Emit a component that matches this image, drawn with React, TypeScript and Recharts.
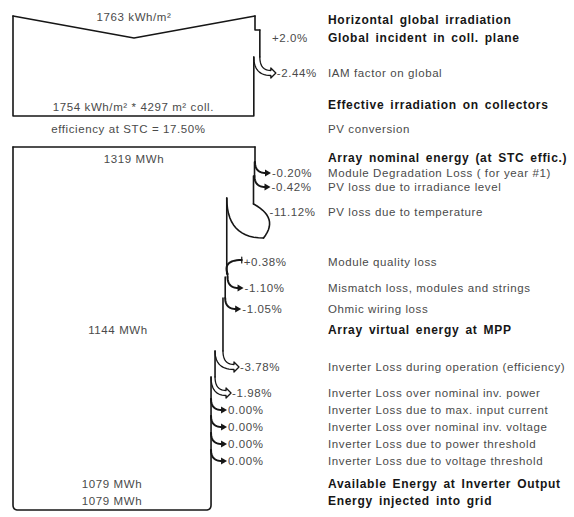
import React from 'react';
import { ComposedChart, Scatter, XAxis, YAxis } from 'recharts';

const W = 574;
const H = 517;
const INK = '#161616';
const GREY = '#4a4a4a';
const FONT = "'Liberation Sans', Arial, Helvetica, sans-serif";

// Irradiation part (kWh/m²)
const GHI = 1763;
const EFF_IRR = 1754;
const COLL_AREA = 4297;
const STC_EFF = 17.5;
const IRR_LABELS = ['Global incident in coll. plane', 'IAM factor on global'];
const IRR_PCT = [2.0, -2.44];
const IRR_DECIMALS = [1, 2];

// Energy part (MWh)
const E_NOMINAL = 1319;
const E_MPP = 1144;
const E_INV_OUT = 1079;
const E_GRID = 1079;
const ARRAY_LABELS = [
  'Module Degradation Loss ( for year #1)',
  'PV loss due to irradiance level',
  'PV loss due to temperature',
  'Module quality loss',
  'Mismatch loss, modules and strings',
  'Ohmic wiring loss',
];
const ARRAY_PCT = [-0.2, -0.42, -11.12, 0.38, -1.1, -1.05];
const INV_LABELS = [
  'Inverter Loss during operation (efficiency)',
  'Inverter Loss over nominal inv. power',
  'Inverter Loss due to max. input current',
  'Inverter Loss over nominal inv. voltage',
  'Inverter Loss due to power threshold',
  'Inverter Loss due to voltage threshold',
];
const INV_PCT = [-3.78, -1.98, 0, 0, 0, 0];

// vertical layout of the rows (px from top)
const ROWS = {
  ghi: 20,
  irr: [38, 73],
  eff: 105,
  conv: 129,
  box1Top: 16,
  box1Dip: 38,
  box1Bottom: 116,
  box2Top: 147,
  box2Bottom: 510,
  nominal: 158,
  array: [173, 187, 212, 262, 288, 309],
  mpp: 330,
  inv: [367, 393, 410, 427, 444, 461],
  out: 484,
  grid: 501,
};

// one unit on the x axis = full width of a box at its starting value
const PX = 242;
const LEFT = 13;
const u = (px: number) => px / PX;
const DESC_X = u(328 - LEFT);
const LW = 1.6;

type P = { x: number; y: number };
type Txt = P & { text: string; bold?: boolean; anchor?: 'start' | 'middle' | 'end' };

const q = (a: P, c: P, b: P, n = 14): P[] =>
  Array.from({ length: n + 1 }, (_, i) => {
    const t = i / n;
    const s = 1 - t;
    return { x: s * s * a.x + 2 * s * t * c.x + t * t * b.x, y: s * s * a.y + 2 * s * t * c.y + t * t * b.y };
  });

const fmtPct = (v: number, d = 2) => (v > 0 ? '+' : '') + v.toFixed(d) + '%';

const lines: { pts: P[]; w: number }[] = [];
const heads: P[] = [];
const texts: Txt[] = [];

// walks a list of gains/losses down the right edge of a box
function runSteps(x: number, yTop: number, pcts: number[], rows: number[], decimals: number[] = []) {
  pcts.forEach((pct, i) => {
    const yL = rows[i];
    const xn = x * (1 + pct / 100);
    const bw = (x - xn) * PX;
    let labelX = x + u(17);
    if (pct > 0) {
      const yJ = yL + 12;
      lines.push({ pts: [{ x, y: yTop }, { x, y: yJ }], w: LW });
      lines.push({ pts: q({ x: x + u(15), y: yL - 2 }, { x: xn - u(5), y: yL - 2 }, { x: xn, y: yJ }), w: 2 });
      lines.push({ pts: [{ x: x + u(15), y: yL - 5 }, { x: x + u(15), y: yL + 1 }], w: 1.2 });
      yTop = yJ;
    } else if (bw < 3) {
      const yS = yL - 11;
      lines.push({ pts: [{ x, y: yTop }, { x, y: yS }], w: LW });
      lines.push({ pts: q({ x, y: yS }, { x, y: yL }, { x: x + u(11), y: yL }), w: 2 });
      heads.push({ x: x + u(16), y: yL });
      yTop = yS;
    } else if (bw < 14) {
      const yS = yL - 16;
      const hw = 2.5;
      const xb = x + u(11);
      lines.push({ pts: [{ x, y: yTop }, { x, y: yS }], w: LW });
      lines.push({
        pts: [
          ...q({ x, y: yS }, { x, y: yL - hw }, { x: xb, y: yL - hw }),
          { x: xb, y: yL - hw - 2.5 },
          { x: x + u(16), y: yL },
          { x: xb, y: yL + hw + 2.5 },
          ...q({ x: xb, y: yL + hw }, { x: xn, y: yL + hw }, { x: xn, y: yS }),
        ],
        w: 1.3,
      });
      yTop = yS;
    } else {
      const tip = { x: x + u(10), y: yL + 26 };
      lines.push({ pts: [{ x, y: yTop }, { x, y: yL - 8 }], w: LW });
      lines.push({ pts: q({ x, y: yL - 8 }, { x: x + u(26), y: yL + 6 }, tip), w: LW });
      lines.push({ pts: q({ x: xn, y: yL - 14 }, { x: xn, y: yL + 26 }, tip), w: LW });
      labelX = x + u(16);
      yTop = yL - 14;
    }
    texts.push({ x: labelX, y: yL, text: fmtPct(pct, decimals[i] ?? 2) });
    x = xn;
  });
  return { x, yTop };
}

// ---- irradiation box ----
const g0 = GHI / GHI;
lines.push({ pts: [{ x: 0, y: ROWS.box1Top }, { x: g0 / 2, y: ROWS.box1Dip }, { x: g0, y: ROWS.box1Top }], w: LW });
const gPoa = g0 * (1 + IRR_PCT[0] / 100);
const yGain = ROWS.irr[0] - 8;
lines.push({ pts: [{ x: g0, y: ROWS.box1Top }, { x: g0, y: yGain }, { x: gPoa, y: yGain }], w: LW });
texts.push({ x: g0 + u(17), y: ROWS.irr[0], text: fmtPct(IRR_PCT[0], IRR_DECIMALS[0]) });
const irr = runSteps(gPoa, yGain, IRR_PCT.slice(1), ROWS.irr.slice(1), IRR_DECIMALS.slice(1));
lines.push({
  pts: [
    { x: irr.x, y: irr.yTop },
    { x: irr.x, y: ROWS.box1Bottom },
    { x: 0, y: ROWS.box1Bottom },
    { x: 0, y: ROWS.box1Top },
  ],
  w: LW,
});
texts.push({ x: g0 / 2, y: ROWS.box1Top + 1, text: `${GHI} kWh/m²`, anchor: 'middle' });
texts.push({ x: irr.x / 2, y: ROWS.eff + 2, text: `${EFF_IRR} kWh/m² * ${COLL_AREA} m² coll.`, anchor: 'middle' });
texts.push({ x: irr.x / 2 - u(5), y: ROWS.conv, text: `efficiency at STC = ${STC_EFF.toFixed(2)}%`, anchor: 'middle' });

// ---- energy box ----
const e0 = E_NOMINAL / E_NOMINAL;
lines.push({ pts: [{ x: 0, y: ROWS.box2Top }, { x: e0, y: ROWS.box2Top }], w: LW });
const arr = runSteps(e0, ROWS.box2Top, ARRAY_PCT, ROWS.array);
const inv = runSteps(arr.x, arr.yTop, INV_PCT, ROWS.inv);
const bot = ROWS.box2Bottom;
lines.push({
  pts: [
    { x: inv.x, y: inv.yTop },
    ...q({ x: inv.x, y: bot - 5 }, { x: inv.x, y: bot }, { x: inv.x - u(5), y: bot }, 6),
    ...q({ x: u(5), y: bot }, { x: 0, y: bot }, { x: 0, y: bot - 5 }, 6),
    { x: 0, y: ROWS.box2Top },
  ],
  w: LW,
});
texts.push({ x: e0 / 2, y: ROWS.nominal + 1, text: `${E_NOMINAL} MWh`, anchor: 'middle' });
texts.push({ x: arr.x / 2, y: ROWS.mpp, text: `${E_MPP} MWh`, anchor: 'middle' });
texts.push({ x: inv.x / 2, y: ROWS.out, text: `${E_INV_OUT} MWh`, anchor: 'middle' });
texts.push({ x: inv.x / 2, y: ROWS.grid, text: `${E_GRID} MWh`, anchor: 'middle' });

// ---- description column ----
const desc: [string, number, boolean][] = [
  ['Horizontal global irradiation', ROWS.ghi, true],
  [IRR_LABELS[0], ROWS.irr[0], true],
  [IRR_LABELS[1], ROWS.irr[1], false],
  ['Effective irradiation on collectors', ROWS.eff, true],
  ['PV conversion', ROWS.conv, false],
  ['Array nominal energy (at STC effic.)', ROWS.nominal, true],
  ...ARRAY_LABELS.map((t, i) => [t, ROWS.array[i], false] as [string, number, boolean]),
  ['Array virtual energy at MPP', ROWS.mpp, true],
  ...INV_LABELS.map((t, i) => [t, ROWS.inv[i], false] as [string, number, boolean]),
  ['Available Energy at Inverter Output', ROWS.out, true],
  ['Energy injected into grid', ROWS.grid, true],
];
desc.forEach(([text, y, bold]) => texts.push({ x: DESC_X, y, text, bold }));

const Nothing = () => <g />;

const Head = (p: any) => (
  <polygon points={`${p.cx - 6},${p.cy - 3.5} ${p.cx},${p.cy} ${p.cx - 6},${p.cy + 3.5}`} fill={INK} />
);

const TextMark = (p: any) => {
  const d: Txt = p.payload;
  return (
    <text
      x={p.cx}
      y={p.cy}
      textAnchor={d.anchor ?? 'start'}
      dominantBaseline="central"
      fontFamily={FONT}
      fontSize={d.bold ? 12 : 11.5}
      fontWeight={d.bold ? 700 : 400}
      fill={d.bold ? INK : GREY}
      letterSpacing={d.bold ? 0.7 : 0.6}
      wordSpacing={d.bold ? 2 : 0}
    >
      {d.text}
    </text>
  );
};

export default function App() {
  return (
    <div style={{ position: 'absolute', left: 0, top: 0, width: W, height: H, background: '#fff' }}>
      <ComposedChart width={W} height={H} margin={{ top: 0, right: 0, bottom: 0, left: 0 }}>
        <XAxis type="number" dataKey="x" domain={[-LEFT / PX, (W - LEFT) / PX]} allowDataOverflow hide />
        <YAxis type="number" dataKey="y" domain={[0, H]} reversed allowDataOverflow hide />
        {lines.map((l, i) => (
          <Scatter
            key={`l${i}`}
            data={l.pts}
            line={{ stroke: INK, strokeWidth: l.w, strokeLinejoin: 'round', strokeLinecap: 'round' }}
            lineType="joint"
            shape={Nothing}
            isAnimationActive={false}
          />
        ))}
        <Scatter data={heads} shape={Head} isAnimationActive={false} />
        <Scatter data={texts} shape={TextMark} isAnimationActive={false} />
      </ComposedChart>
    </div>
  );
}
